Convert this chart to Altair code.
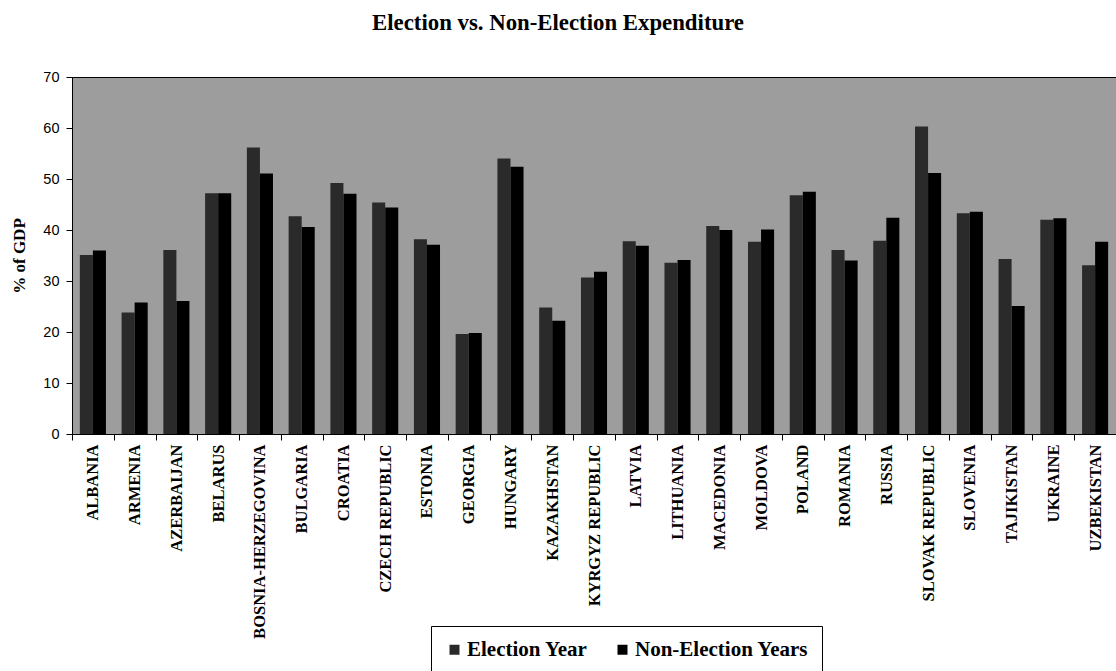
import altair as alt
import pandas as pd

countries = [
    "ALBANIA", "ARMENIA", "AZERBAIJAN", "BELARUS", "BOSNIA-HERZEGOVINA",
    "BULGARIA", "CROATIA", "CZECH REPUBLIC", "ESTONIA", "GEORGIA",
    "HUNGARY", "KAZAKHSTAN", "KYRGYZ REPUBLIC", "LATVIA", "LITHUANIA",
    "MACEDONIA", "MOLDOVA", "POLAND", "ROMANIA", "RUSSIA",
    "SLOVAK REPUBLIC", "SLOVENIA", "TAJIKISTAN", "UKRAINE", "UZBEKISTAN",
]
election_year = [
    35.1, 23.8, 36.1, 47.2, 56.2,
    42.7, 49.2, 45.4, 38.2, 19.6,
    54.0, 24.8, 30.7, 37.8, 33.6,
    40.8, 37.7, 46.8, 36.1, 37.9,
    60.3, 43.3, 34.3, 42.0, 33.1,
]
non_election_years = [
    36.0, 25.8, 26.1, 47.2, 51.1,
    40.6, 47.1, 44.4, 37.1, 19.8,
    52.4, 22.2, 31.8, 36.9, 34.1,
    40.0, 40.1, 47.5, 34.0, 42.4,
    51.2, 43.6, 25.1, 42.3, 37.7,
]
series = ["Election Year", "Non-Election Years"]
series_colors = ["#2a2a2a", "#000000"]
y_ticks = [0, 10, 20, 30, 40, 50, 60, 70]

rows = []
for name, e, n in zip(countries, election_year, non_election_years):
    rows.append({"country": name, "series": series[0], "value": e})
    rows.append({"country": name, "series": series[1], "value": n})
df = pd.DataFrame(rows)

serif = "Liberation Serif"
sans = "Liberation Sans"

chart = (
    alt.Chart(df)
    .mark_bar()
    .encode(
        x=alt.X(
            "country:N",
            sort=countries,
            scale=alt.Scale(paddingInner=0, paddingOuter=0),
            axis=alt.Axis(
                title=None,
                labelAngle=-90,
                tickBand="extent",
                labelFont=serif,
                labelFontWeight="bold",
                labelFontSize=16.5,
                labelColor="black",
                labelPadding=4,
                tickColor="black",
                tickSize=6,
                domainColor="black",
                labelLimit=300,
            ),
        ),
        xOffset=alt.XOffset(
            "series:N", sort=series,
            scale=alt.Scale(paddingOuter=0.6, paddingInner=0),
        ),
        y=alt.Y(
            "value:Q",
            scale=alt.Scale(domain=[0, 70], nice=False),
            axis=alt.Axis(
                title="% of GDP",
                values=y_ticks,
                grid=False,
                labelFont=sans,
                labelFontSize=14.5,
                labelColor="black",
                labelPadding=7,
                tickColor="black",
                tickSize=6,
                domainColor="black",
                titleFont=serif,
                titleFontWeight="bold",
                titleFontSize=17,
                titleColor="black",
                titlePadding=14,
            ),
        ),
        color=alt.Color(
            "series:N",
            sort=series,
            scale=alt.Scale(domain=series, range=series_colors),
            legend=alt.Legend(
                title=None,
                orient="none",
                legendX=359,
                legendY=549,
                direction="horizontal",
                strokeColor="black",
                padding=13,
                symbolType="square",
                symbolSize=100,
                symbolOffset=0,
                symbolStrokeWidth=0,
                labelOffset=2,
                labelFont=serif,
                labelFontWeight="bold",
                labelFontSize=21,
                labelColor="black",
                labelLimit=400,
                columnPadding=24,
            ),
        ),
    )
    .properties(
        width=1044,
        height=357,
        title=alt.TitleParams(
            "Election vs. Non-Election Expenditure",
            font=serif,
            fontWeight="bold",
            fontSize=22.8,
            color="black",
            anchor="middle",
            dx=-36,
            offset=34,
        ),
        padding={"left": 72, "top": 77, "right": 0, "bottom": 237},
        autosize=alt.AutoSizeParams(type="none"),
        background="white",
    )
    .configure_view(fill="#9d9d9d", stroke="black", strokeWidth=1)
)

chart.save("out.html", embed_options={"renderer": "svg", "actions": False})
